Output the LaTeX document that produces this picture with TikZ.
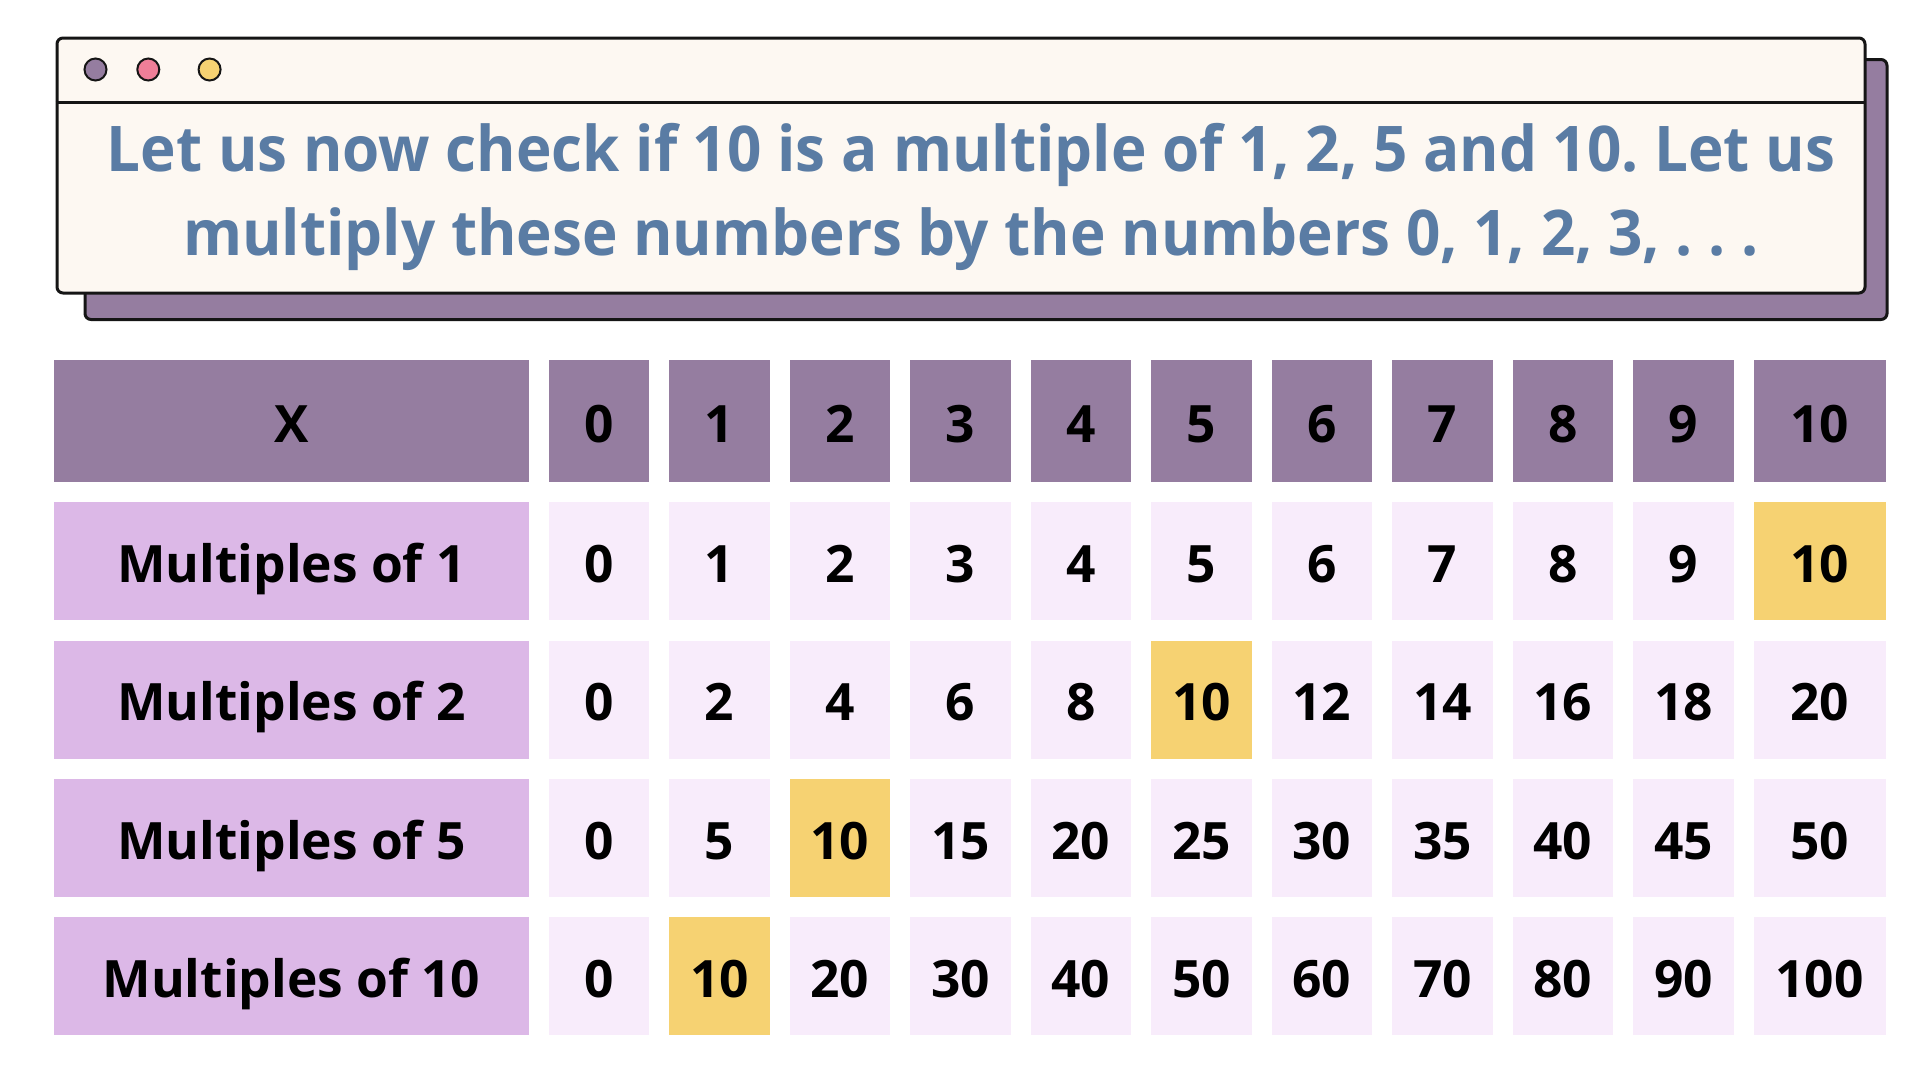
\documentclass[tikz,border=0pt]{standalone}
\usepackage{fontspec}
\setmainfont{Open Sans}
\newfontfamily\titlefont[FakeStretch=0.955]{Open Sans}
\frenchspacing
\definecolor{hdr}{HTML}{957DA0}
\definecolor{lbl}{HTML}{DCB8E7}
\definecolor{dat}{HTML}{F8ECFB}
\definecolor{hil}{HTML}{F6D272}
\definecolor{win}{HTML}{FDF8F2}
\definecolor{ttl}{HTML}{5A7CA4}
\definecolor{pinkc}{HTML}{EF7E98}
\definecolor{edge}{HTML}{151515}
\tikzset{
  framebox/.style={draw=edge, line width=3pt, rounded corners=6pt, inner sep=0pt},
  dot/.style={circle, draw=edge, line width=2pt, minimum size=22pt, inner sep=0pt},
  titleline/.style={text=ttl, font=\titlefont\bfseries\fontsize{63}{84}\selectfont, inner sep=0pt, anchor=base},
  tcell/.style={inner sep=0pt, text=black, text height=42pt, text depth=0pt, font=\bfseries\fontsize{51.5}{56}\selectfont},
  hcell/.style={tcell, fill=hdr},
  lcell/.style={tcell, fill=lbl, minimum width=475pt, minimum height=118pt},
  dcell/.style={tcell, fill=dat},
  ycell/.style={tcell, fill=hil},
}
\begin{document}
\begin{tikzpicture}[x=1pt,y=-1pt]
\useasboundingbox[fill=white] (0,0) rectangle (1920,1080);
% window
\node[framebox, fill=hdr, minimum width=1802pt, minimum height=260pt, anchor=north west] (shadow) at (83.5,58) {};
\node[framebox, fill=win, minimum width=1808pt, minimum height=255pt, anchor=north west] (win) at (55.5,36.5) {};
\coordinate (sepL) at (55.5,102);
\coordinate (sepR) at (1863.5,102);
\draw[draw=edge, line width=3pt] (sepL) -- (sepR);
\node[dot, fill=hdr] (d1) at (95.5,69.5) {};
\node[dot, fill=pinkc] (d2) at (148.3,69.5) {};
\node[dot, fill=hil] (d3) at (209.6,69.5) {};
\node[titleline] (title1) at (971,171) {Let us now check if 10 is a multiple of 1, 2, 5 and 10. Let us};
\node[titleline] (title2) at (971,255) {multiply these numbers by the numbers 0, 1, 2, 3, . . .};
% header row
\node[hcell, minimum width=475pt, minimum height=122.5pt] (h-l) at (291.5,421.2) {X};
\foreach \i in {0,...,9}{
  \node[hcell, minimum width=100.5pt, minimum height=122.5pt] (h-\i) at ({598.9+\i*120.5},421.2) {\i};
}
\node[hcell, minimum width=132pt, minimum height=122.5pt] (h-10) at (1819.6,421.2) {10};
% data rows
\foreach \m/\r/\hi in {1/1/10, 2/2/5, 5/3/2, 10/4/1}{
  \pgfmathsetmacro{\yy}{561.2+(\r-1)*138.4}
  \node[lcell] (l-\r) at (291.5,\yy) {Multiples of \m};
  \foreach \i in {0,...,9}{
    \pgfmathtruncatemacro{\v}{\m*\i}
    \ifnum\i=\hi
      \node[ycell, minimum width=100.5pt, minimum height=118pt] (c-\r-\i) at ({598.9+\i*120.5},\yy) {\v};
    \else
      \node[dcell, minimum width=100.5pt, minimum height=118pt] (c-\r-\i) at ({598.9+\i*120.5},\yy) {\v};
    \fi
  }
  \pgfmathtruncatemacro{\v}{\m*10}
  \ifnum\hi=10
    \node[ycell, minimum width=132pt, minimum height=118pt] (c-\r-10) at (1819.6,\yy) {\v};
  \else
    \node[dcell, minimum width=132pt, minimum height=118pt] (c-\r-10) at (1819.6,\yy) {\v};
  \fi
}
\end{tikzpicture}
\end{document}
